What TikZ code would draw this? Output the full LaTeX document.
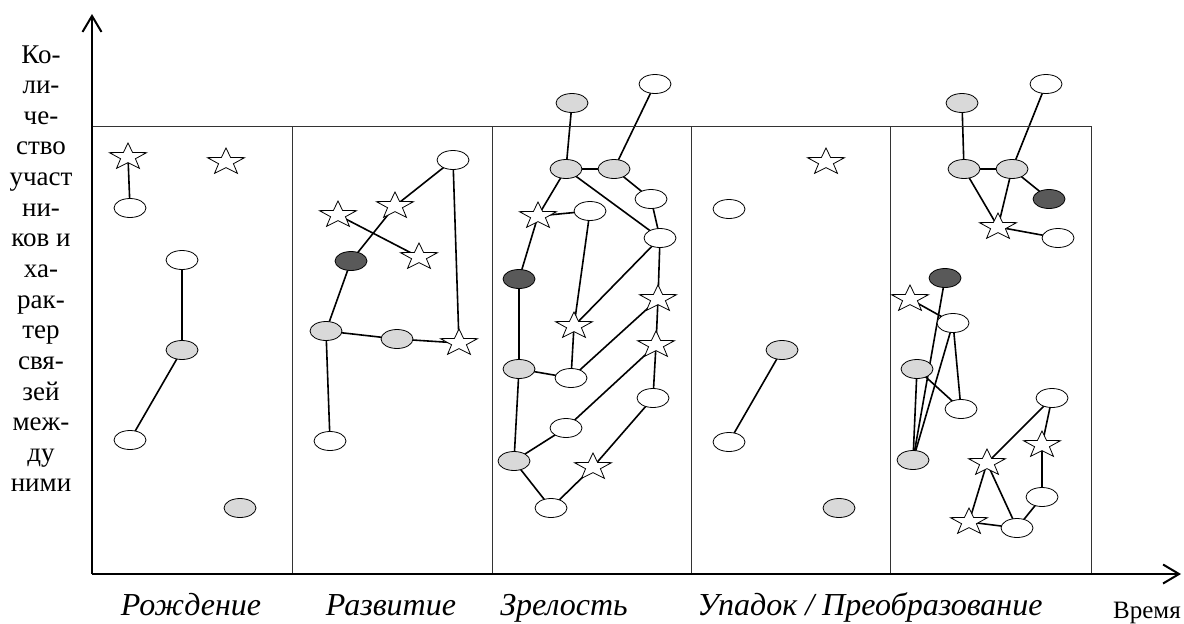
\documentclass[tikz,border=0pt]{standalone}
\usepackage{fontspec}
\setmainfont{Liberation Serif}
\usetikzlibrary{shapes.geometric,arrows.meta,backgrounds}
\definecolor{lgray}{HTML}{D9D9D9}
\definecolor{dgray}{HTML}{595959}
\begin{document}
\begin{tikzpicture}[x=1pt,y=-1pt,
  wn/.style={ellipse,draw,line width=0.8pt,fill=white,minimum width=32pt,minimum height=19pt,inner sep=0pt},
  gn/.style={wn,fill=lgray},
  dn/.style={wn,fill=dgray},
  sn/.style={star,star points=5,star point ratio=2.5,draw,line width=0.8pt,fill=white,
    minimum size=39pt,inner sep=0pt,yscale=0.72,transform shape},
  ed/.style={line width=1.6pt},
  frame/.style={line width=1pt,draw=black!80},
  axis/.style={line width=2pt,-{Straight Barb[length=16pt,width=19pt,line width=2pt]}},
  stage/.style={font=\fontsize{32}{34}\selectfont\itshape,anchor=base},
  ytxt/.style={font=\fontsize{27}{30}\selectfont,anchor=base},
]
\useasboundingbox (0,0) rectangle (1184,624);

% axes
\coordinate (o) at (92,574);
\coordinate (ytip) at (92,14);
\coordinate (xtip) at (1181,574);

% stage frame
\draw[frame] (92,126) -- (1091,126) -- (1091,574);
\foreach \x in {292,492,691,890} \draw[frame] (\x,126) -- (\x,574);

\draw[axis] (o) -- (ytip);
\draw[axis] (o) -- (xtip);

% axis captions
\foreach \t [count=\i] in {Ко-,ли-,че-,ство,участ,ни-,ков и,ха-,рак-,тер,свя-,зей,меж-,ду,ними}
  \node[ytxt] (yl\i) at (41,{63+30.64*(\i-1)}) {\t};
\node[font=\fontsize{25}{28}\selectfont,anchor=base] (xlab) at (1147,618) {Время};

\node[stage] (s1) at (191,615) {Рождение};
\node[stage] (s2) at (391,615) {Развитие};
\node[stage] (s3) at (564,615) {Зрелость};
\node[stage] (s4) at (870,615) {Упадок / Преобразование};

% stage 1
\node[sn] (a1) at (128,157) {};
\node[sn] (a2) at (226,162) {};
\node[wn] (a3) at (130,208) {};
\node[wn] (a4) at (182,260) {};
\node[gn] (a5) at (182,350) {};
\node[wn] (a6) at (130,440) {};
\node[gn] (a7) at (240,508) {};

% stage 2
\node[wn] (b1) at (453,160) {};
\node[sn] (b2) at (395,206) {};
\node[sn] (b3) at (338,215) {};
\node[dn] (b4) at (351,261) {};
\node[sn] (b5) at (419,257) {};
\node[gn] (b6) at (326,331) {};
\node[gn] (b7) at (397,339) {};
\node[sn] (b8) at (459,343) {};
\node[wn] (b9) at (330,441) {};

% stage 3
\node[gn] (c1) at (572,103) {};
\node[wn] (c2) at (655,84) {};
\node[gn] (c3) at (566,169) {};
\node[gn] (c4) at (614,169) {};
\node[wn] (c5) at (651,199) {};
\node[sn] (c6) at (538,216) {};
\node[wn] (c7) at (590,211) {};
\node[wn] (c8) at (660,238) {};
\node[dn] (c9) at (519,279) {};
\node[sn] (c10) at (658,299) {};
\node[sn] (c11) at (574,326) {};
\node[sn] (c12) at (656,345) {};
\node[gn] (c13) at (519,369) {};
\node[wn] (c14) at (571,378) {};
\node[wn] (c15) at (653,398) {};
\node[wn] (c16) at (566,428) {};
\node[gn] (c17) at (514,461) {};
\node[sn] (c18) at (593,467) {};
\node[wn] (c19) at (551,508) {};

% stage 4
\node[sn] (d1) at (826,162) {};
\node[wn] (d2) at (729,209) {};
\node[gn] (d3) at (782,350) {};
\node[wn] (d4) at (729,442) {};
\node[gn] (d5) at (839,508) {};

% stage 5
\node[gn] (e1) at (962,103) {};
\node[wn] (e2) at (1046,84) {};
\node[gn] (e3) at (964,169) {};
\node[gn] (e4) at (1012,169) {};
\node[dn] (e5) at (1049,199) {};
\node[sn] (e6) at (998,227) {};
\node[wn] (e7) at (1058,238) {};
\node[dn] (e8) at (945,278) {};
\node[sn] (e9) at (910,299) {};
\node[wn] (e10) at (953,323) {};
\node[gn] (e11) at (917,369) {};
\node[wn] (e12) at (961,409) {};
\node[wn] (e13) at (1052,398) {};
\node[sn] (e14) at (1042,445) {};
\node[gn] (e15) at (913,460) {};
\node[sn] (e16) at (987,463) {};
\node[wn] (e17) at (1042,497) {};
\node[sn] (e18) at (969,522) {};
\node[wn] (e19) at (1017,528) {};

% links between participants
\begin{pgfonlayer}{background}
\foreach \p/\q in {a1/a3,a4/a5,a5/a6,
  b1/b2,b2/b4,b3/b5,b4/b6,b6/b7,b7/b8,b1/b8,b6/b9,
  c1/c3,c2/c4,c3/c4,c4/c5,c5/c8,c3/c8,c3/c6,c6/c7,c6/c9,c7/c11,c8/c11,c8/c10,
  c11/c14,c9/c13,c13/c14,c14/c10,c10/c12,c12/c16,c12/c15,c15/c18,c18/c19,
  c16/c17,c13/c17,c17/c19,
  d4/d3,
  e1/e3,e2/e4,e3/e4,e4/e5,e3/e6,e4/e6,e6/e7,
  e8/e15,e9/e10,e10/e12,e10/e15,e11/e12,e11/e15,
  e13/e14,e13/e16,e14/e17,e17/e19,e16/e19,e16/e18,e18/e19}
  \draw[ed] (\p.center) -- (\q.center);
\end{pgfonlayer}
\end{tikzpicture}
\end{document}
